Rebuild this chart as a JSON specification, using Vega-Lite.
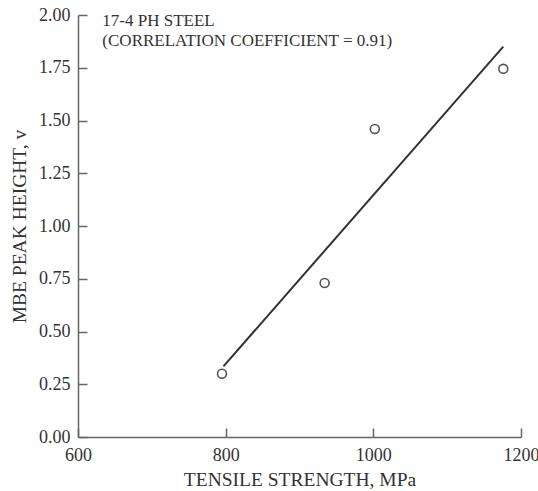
{
  "$schema": "https://vega.github.io/schema/vega-lite/v6.json",
  "width": 443,
  "height": 422,
  "autosize": {"type": "none"},
  "padding": {"left": 78, "top": 15, "right": 17, "bottom": 54},
  "background": "white",
  "config": {
    "view": {"stroke": null},
    "font": "Liberation Serif",
    "axis": {
      "grid": false,
      "domainColor": "#666",
      "domainWidth": 1.5,
      "tickColor": "#666",
      "tickWidth": 1.5,
      "tickSize": -9,
      "labelFont": "Liberation Serif",
      "labelFontSize": 18,
      "labelColor": "#333",
      "titleFont": "Liberation Serif",
      "titleFontSize": 19.5,
      "titleFontWeight": "normal",
      "titleColor": "#333",
      "labelOverlap": false,
      "labelFlush": false
    }
  },
  "datasets": {
    "points": [
      {"strength": 795, "height": 0.30},
      {"strength": 934, "height": 0.73},
      {"strength": 1002, "height": 1.46},
      {"strength": 1176, "height": 1.745}
    ],
    "fit": [
      {"strength": 797, "height": 0.335},
      {"strength": 1176, "height": 1.85}
    ],
    "notes": [
      {"strength": 633, "height": 1.97, "text": "17-4 PH STEEL"},
      {"strength": 633, "height": 1.878, "text": "(CORRELATION COEFFICIENT = 0.91)"}
    ]
  },
  "layer": [
    {
      "data": {"name": "fit"},
      "mark": {"type": "line", "color": "#333", "strokeWidth": 2},
      "encoding": {
        "x": {"field": "strength", "type": "quantitative",
              "scale": {"domain": [600, 1200], "nice": false, "zero": false},
              "axis": {"values": [600, 800, 1000, 1200], "format": "d", "title": "TENSILE STRENGTH, MPa", "labelPadding": 18, "titlePadding": 6}},
        "y": {"field": "height", "type": "quantitative",
              "scale": {"domain": [0, 2], "nice": false},
              "axis": {"values": [0, 0.25, 0.5, 0.75, 1, 1.25, 1.5, 1.75, 2], "format": ".2f", "title": "MBE PEAK HEIGHT, v", "labelPadding": 17, "titlePadding": 9}}
      }
    },
    {
      "data": {"name": "points"},
      "mark": {"type": "point", "shape": "circle", "filled": false, "size": 80, "stroke": "#555", "strokeWidth": 1.6, "opacity": 1},
      "encoding": {
        "x": {"field": "strength", "type": "quantitative"},
        "y": {"field": "height", "type": "quantitative"}
      }
    },
    {
      "data": {"name": "notes"},
      "mark": {"type": "text", "align": "left", "baseline": "middle", "font": "Liberation Serif", "fontSize": 17, "color": "#333"},
      "encoding": {
        "x": {"field": "strength", "type": "quantitative"},
        "y": {"field": "height", "type": "quantitative"},
        "text": {"field": "text"}
      }
    }
  ]
}
